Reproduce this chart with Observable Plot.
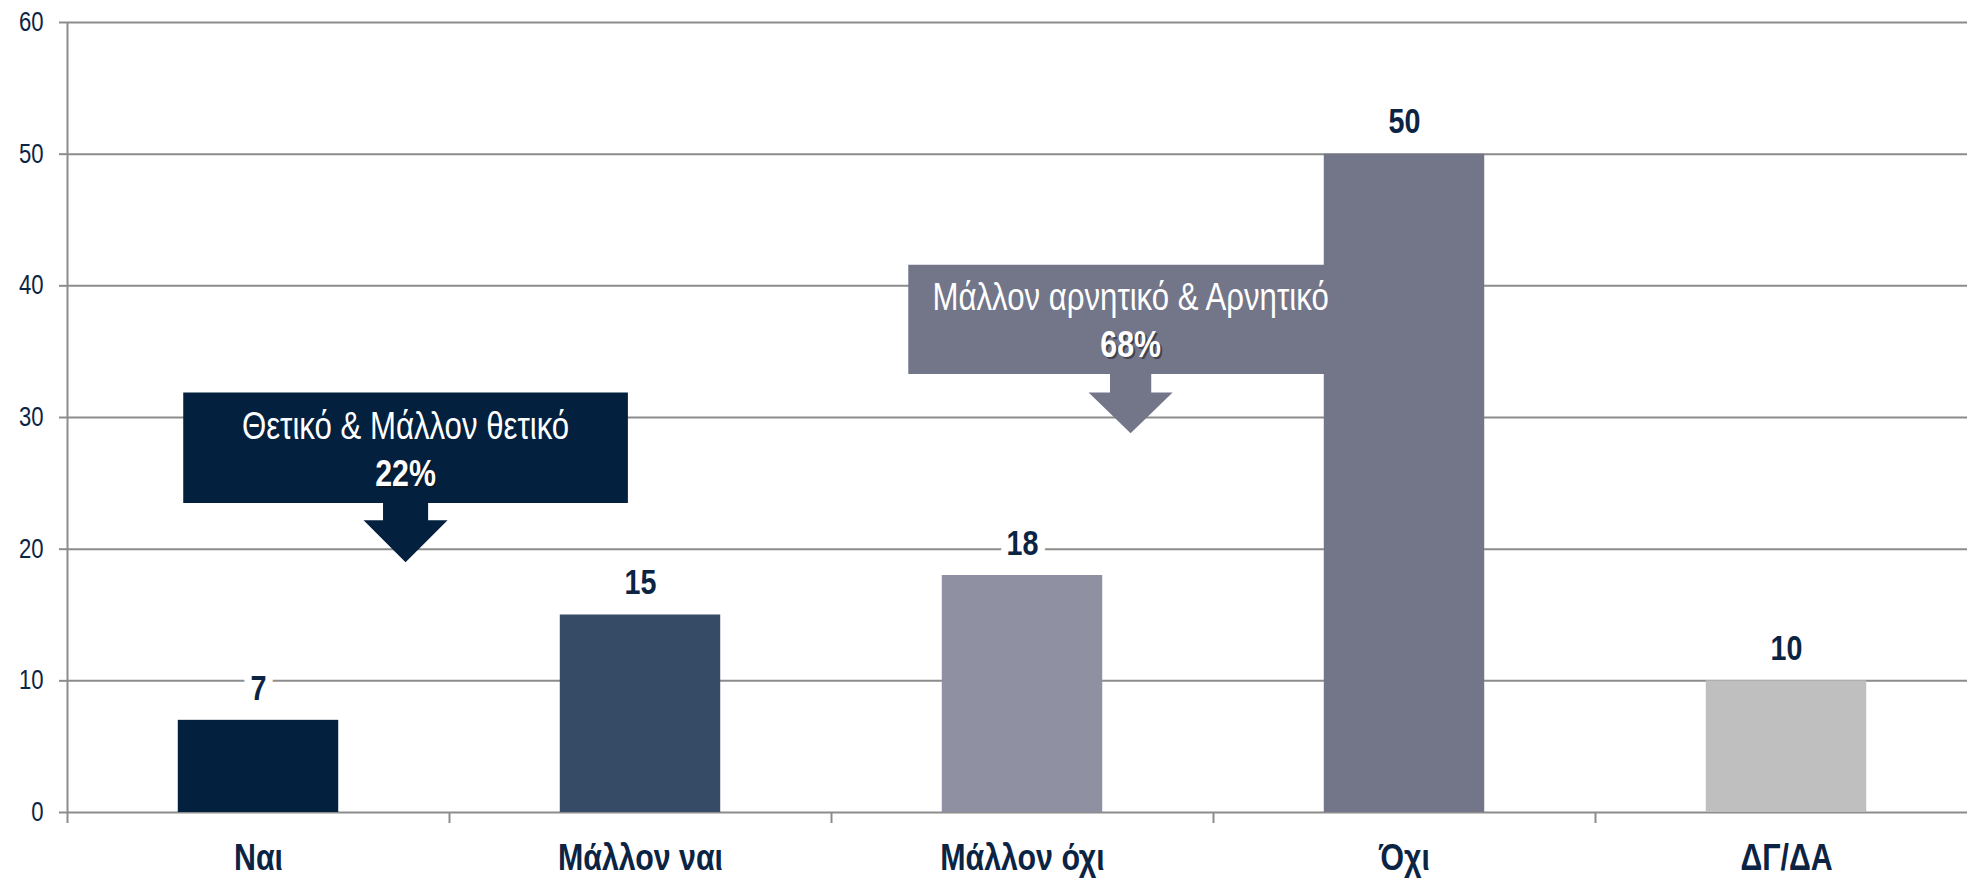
<!DOCTYPE html>
<html><head><meta charset="utf-8">
<script src="https://cdn.jsdelivr.net/npm/d3@7"></script>
<script src="https://cdn.jsdelivr.net/npm/@observablehq/plot@0.6"></script>
<style>
html,body{margin:0;padding:0;background:#fff;}
#chart svg{display:block;}
</style></head><body><div id="chart"></div>
<script>
// ---- data ----
const categories = ["Ναι", "Μάλλον ναι", "Μάλλον όχι", "Όχι", "ΔΓ/ΔΑ"];
const values = [7, 15, 18, 50, 10];
const barColors = ["#03203f", "#364b66", "#8f91a2", "#737589", "#bfbfbf"];
const yTicks = [0, 10, 20, 30, 40, 50, 60];
const groupLabels = ["Θετικό & Μάλλον θετικό", "Μάλλον αρνητικό & Αρνητικό"];
const groupMembers = [[0, 1], [2, 3]];
const groupColors = ["#03203f", "#737589"];

// ---- layout / style ----
const FONT = '"Liberation Sans", Arial, sans-serif';
const SQUEEZE = 0.82; // narrow-face look
const NAVY = "#0c2444";
const GRID = "#8c8c8c";
const half = 0.21;
const calloutLayout = [
  {cx: 0.385, halfW: 0.582, top: 31.9, bottom: 23.5, stemHalf: 0.059, stemBottom: 22.2, headHalf: 0.11, tip: 19.0, line1: 29.3, line2: 25.7},
  {cx: 2.283, halfW: 0.582, top: 41.6, bottom: 33.3, stemHalf: 0.054, stemBottom: 31.9, headHalf: 0.11, tip: 28.8, line1: 39.1, line2: 35.5}
];

const bars = categories.map((c, i) => ({i, c, v: values[i], color: barColors[i]}));
const groups = groupLabels.map((label, g) => {
  const L = calloutLayout[g];
  const pct = d3.sum(groupMembers[g], i => values[i]) + "%";
  const pts = [
    [L.cx - L.halfW, L.top], [L.cx + L.halfW, L.top], [L.cx + L.halfW, L.bottom],
    [L.cx + L.stemHalf, L.bottom], [L.cx + L.stemHalf, L.stemBottom], [L.cx + L.headHalf, L.stemBottom],
    [L.cx, L.tip],
    [L.cx - L.headHalf, L.stemBottom], [L.cx - L.stemHalf, L.stemBottom], [L.cx - L.stemHalf, L.bottom],
    [L.cx - L.halfW, L.bottom], [L.cx - L.halfW, L.top]
  ].map(([x, y]) => ({x, y}));
  return {label, pct, color: groupColors[g], L, pts};
});

const calloutShapes = groups.map(g =>
  Plot.line(g.pts, {x: "x", y: "y", fill: g.color, stroke: "none", curve: "linear"}));
const calloutTexts = groups.flatMap(g => [
  Plot.text([g], {x: d => d.L.cx, y: d => d.L.line1, text: "label", fill: "white", fontSize: 38, lineAnchor: "middle"}),
  Plot.text([g], {x: d => d.L.cx, y: d => d.L.line2, text: "pct", fill: "#111", fillOpacity: 0.5, dx: 2, dy: 2, fontSize: 37, fontWeight: "bold", lineAnchor: "middle"}),
  Plot.text([g], {x: d => d.L.cx, y: d => d.L.line2, text: "pct", fill: "white", fontSize: 37, fontWeight: "bold", lineAnchor: "middle"})
]);

const boundaries = d3.range(categories.length + 1).map(i => i - 0.5);

const chart = Plot.plot({
  width: 1967, height: 879,
  marginLeft: 67, marginRight: 0, marginTop: 22, marginBottom: 67,
  x: {type: "linear", domain: [-0.5, categories.length - 0.5], range: [67, 1977], axis: null, label: null},
  y: {domain: [0, 60], range: [812, 22], axis: null, label: null},
  style: {fontFamily: FONT, background: "#fff"},
  marks: [
    Plot.ruleY(yTicks, {stroke: GRID, strokeWidth: 2}),
    Plot.ruleX([-0.5], {stroke: GRID, strokeWidth: 2}),
    Plot.axisY({ticks: yTicks, tickSize: 8, tickPadding: 16, stroke: GRID, strokeWidth: 2, fill: NAVY, fontSize: 27, label: null}),
    Plot.axisX({ticks: boundaries, tickSize: 11, stroke: GRID, strokeWidth: 2, fill: "none", label: null}),
    Plot.axisX({ticks: d3.range(categories.length), tickSize: 0, tickPadding: 31, tickFormat: i => categories[i], fill: NAVY, fontSize: 37, fontWeight: "bold", label: null}),
    ...calloutShapes,
    Plot.rectY(bars, {x1: d => d.i - half, x2: d => d.i + half, y: "v", fill: "color"}),
    ...calloutTexts,
    Plot.text(bars, {x: "i", y: "v", text: d => String(d.v), dy: -32, fontSize: 35, fontWeight: "bold", fill: NAVY, stroke: "white", strokeWidth: 18, strokeLinejoin: "round", lineAnchor: "middle"})
  ]
});
document.getElementById("chart").appendChild(chart);
// condensed appearance: squeeze each text horizontally
chart.querySelectorAll("text").forEach(t => {
  const len = t.getComputedTextLength();
  if (len > 0) {
    t.setAttribute("textLength", (len * SQUEEZE).toFixed(1));
    t.setAttribute("lengthAdjust", "spacingAndGlyphs");
  }
});
</script>
</body></html>
